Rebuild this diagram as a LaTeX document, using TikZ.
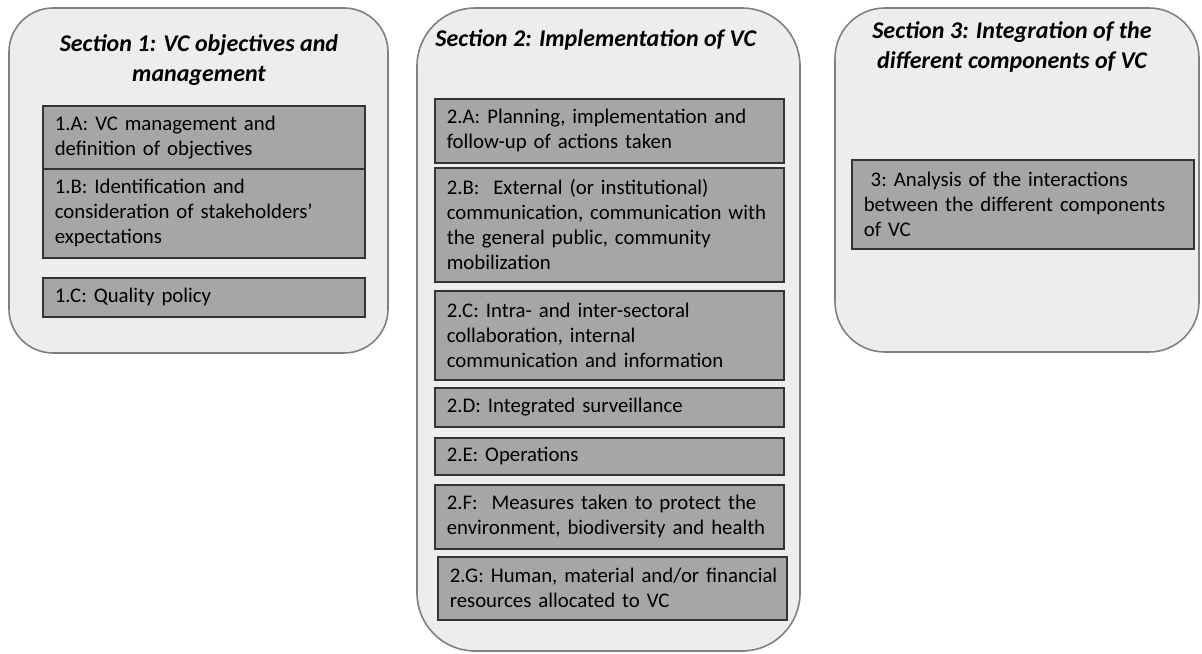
\documentclass[tikz,border=0pt]{standalone}
\usepackage{fontspec}
\setmainfont{Carlito}
\usepackage{xcolor}

\definecolor{panelgray}{RGB}{237,237,237}
\definecolor{panelline}{RGB}{128,128,128}
\definecolor{boxgray}{RGB}{166,166,166}
\definecolor{boxline}{RGB}{52,52,52}

\tikzset{
    section/.style={draw=panelline, fill=panelgray, line width=0.8pt},
    heading/.style={font=\fontsize{12}{15}\selectfont\bfseries\itshape, align=center, inner sep=0pt},
    item/.style={draw=boxline, fill=boxgray, line width=0.8pt, anchor=north west, align=left,
        inner xsep=6pt, inner ysep=0pt, font=\fontsize{10.4}{12.5}\selectfont\frenchspacing},
    itemone/.style={item, text width=149pt},
    itemtwo/.style={item, text width=162.5pt},
}

\begin{document}
\begin{tikzpicture}[x=0.5pt,y=-0.5pt]
\useasboundingbox (0,0) rectangle (1202,653);

% The three sections
\draw[section, rounded corners=22pt] (9,8) rectangle (388,353);
\draw[section, rounded corners=29pt] (417,8) rectangle (800,651);
\draw[section, rounded corners=25pt] (835,8) rectangle (1199,352);

% Section titles
\node[heading] (t1) at (199,60) {Section 1: VC objectives and\\management};
\node[heading, anchor=west] (t2) at (435,40) {Section 2: Implementation of VC};
\node[heading] (t3) at (1012,47) {Section 3: Integration of the\\different components of VC};

% Section 1
\node[itemone, minimum height=31.5pt] (s1a) at (42,105) {1.A: VC management and\\definition of objectives};
\node[itemone, minimum height=44.5pt] (s1b) at (42,168) {1.B: Identification and\\consideration of stakeholders’\\expectations};
\node[itemone, minimum height=19.5pt] (s1c) at (42,277) {1.C: Quality policy};

% Section 2
\node[itemtwo, minimum height=32pt] (s2a) at (434,98) {2.A: Planning, implementation and\\follow-up of actions taken};
\node[itemtwo, minimum height=57pt] (s2b) at (434,167) {2.B:~ External (or institutional)\\communication, communication with\\the general public, community\\mobilization};
\node[itemtwo, minimum height=44.5pt] (s2c) at (434,290) {2.C: Intra- and inter-sectoral\\collaboration, internal\\communication and information};
\node[itemtwo, minimum height=19.5pt] (s2d) at (434,387) {2.D: Integrated surveillance};
\node[itemtwo, minimum height=18.5pt] (s2e) at (434,437) {2.E: Operations};
\node[itemtwo, minimum height=32pt] (s2f) at (434,484) {2.F:~ Measures taken to protect the\\environment, biodiversity and health};
\node[item, text width=165.5pt, inner xsep=4.5pt, minimum height=31.5pt] (s2g) at (437,556) {\hspace{1.5pt}2.G: Human, material and/or financial\\\hspace*{1.5pt}resources allocated to VC};

% Section 3
\node[item, text width=159pt, minimum height=44.5pt] (s3) at (851,159) {~3: Analysis of the interactions\\between the different components\\of VC};

\end{tikzpicture}
\end{document}
